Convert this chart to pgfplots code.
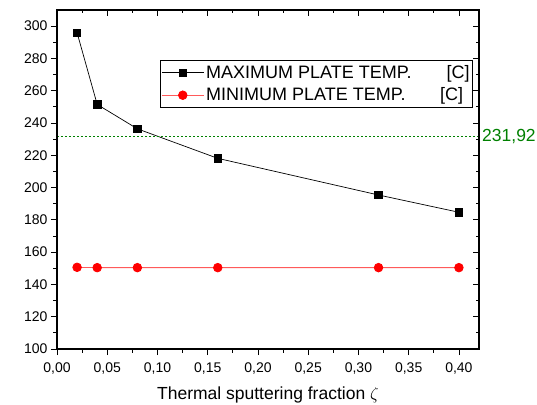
\documentclass[border=0pt]{standalone}
\usepackage{fontspec}
\setmainfont{Liberation Sans}
\usepackage{pgfplots}
\pgfplotsset{compat=1.18}
\definecolor{refgreen}{RGB}{0,128,0}
\definecolor{linered}{RGB}{255,90,90}
\begin{document}
\begin{tikzpicture}
\pgfplotsset{
  common/.style={
    scale only axis, width=422pt, height=339pt,
    xmin=0, xmax=0.42, ymin=100, ymax=310,
    xtick={0,0.05,...,0.41}, ytick={100,120,...,300},
    minor x tick num=1, minor y tick num=1,
    axis line style={line width=1.1pt},
    every tick/.style={black, line width=0.8pt},
    major tick length=6pt, minor tick length=3.5pt,
  }
}
\begin{axis}[common, clip mode=individual,
  tick align=outside, xtick pos=bottom, ytick pos=left,
  /pgf/number format/assume math mode=true,
  xticklabel style={font=\fontsize{14}{16}\selectfont, yshift=-4pt, /pgf/number format/.cd, fixed, fixed zerofill, precision=2, use comma},
  yticklabel style={font=\fontsize{14}{16}\selectfont},
  xlabel={Thermal sputtering fraction $\zeta$},
  xlabel style={font=\fontsize{17.5}{20}\selectfont, at={(axis description cs:0.5,0)}, anchor=base, yshift=-50pt},
  legend style={at={(0.244,0.8525)}, anchor=north west, draw=black, line width=0.8pt,
    font=\fontsize{18}{21}\selectfont, inner sep=1pt, row sep=0pt,
    nodes={inner xsep=2pt, inner ysep=4pt}},
  legend cell align=left,
  legend image code/.code={\draw[mark repeat=2,mark phase=2,#1] plot coordinates {(0pt,0pt)(21pt,0pt)(42pt,0pt)};},
]
\addplot[black, line width=0.7pt, mark=square*, mark size=3.7pt, mark options={solid, fill=black}]
coordinates {(0.02,295.9) (0.04,251.5) (0.08,236.4) (0.16,218.1) (0.32,195.4) (0.40,184.7)};
\addlegendentry{MAXIMUM PLATE TEMP.\hspace{35pt}[C]}
\addplot[linered, line width=0.8pt, mark=*, mark size=4.3pt, mark options={solid, fill=red, draw=red}]
coordinates {(0.02,150.6) (0.04,150.4) (0.08,150.4) (0.16,150.4) (0.32,150.4) (0.40,150.4)};
\addlegendentry{MINIMUM PLATE TEMP.\hspace{34.5pt}[C]}
\addplot[refgreen, line width=0.8pt, dash pattern=on 2pt off 2pt, forget plot]
coordinates {(0,231.92) (0.42,231.92)};
\node[anchor=west, text=refgreen, font=\fontsize{17.5}{20}\selectfont, inner sep=0pt, xshift=3pt] at (axis cs:0.42,231.92) {231,92};
\end{axis}
\begin{axis}[common,
  tick align=inside, xtick pos=top, ytick pos=right,
  xticklabels={}, yticklabels={},
]
\end{axis}
\pgfresetboundingbox
\useasboundingbox (-57pt,-55pt) rectangle (480pt,349pt);
\end{tikzpicture}
\end{document}
